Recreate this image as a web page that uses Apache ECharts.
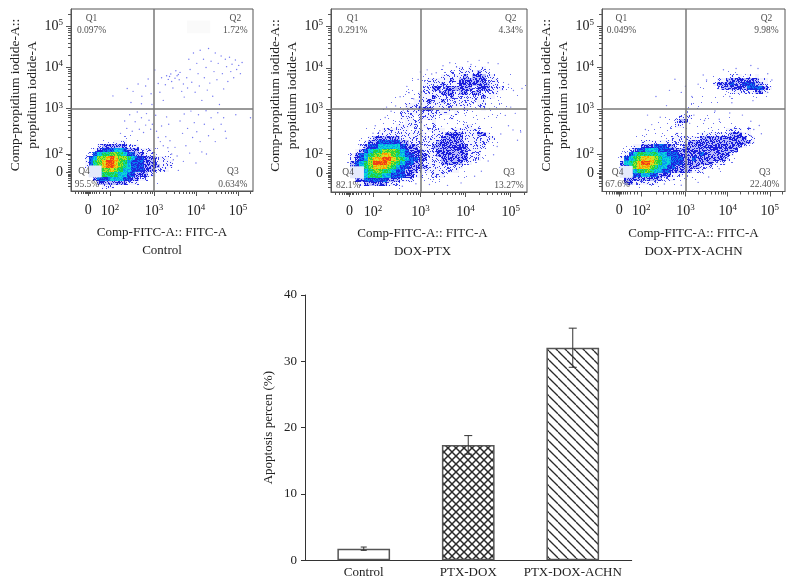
<!DOCTYPE html>
<html><head><meta charset="utf-8">
<style>html,body{margin:0;padding:0;background:#fff}#c{width:793px;height:585px}</style>
<script src="https://cdn.jsdelivr.net/npm/echarts@6/dist/echarts.min.js"></script>
</head><body><div id="c"></div>
<script>
// ---------- flow cytometry data (positions in decades on the biexponential display scale) ----------
const panelNames = ['Control', 'DOX-PTX', 'DOX-PTX-ACHN'];
const majorTicksX = [1.43, 1.95, 3, 4, 5];
const majorTicksY = [1.45, 1.9, 3, 4, 5];
const tickLabels = ['0', '10{s|2}', '10{s|3}', '10{s|4}', '10{s|5}'];
const minorTicks = [1.12,1.2,1.26,1.31,1.35,1.38,1.41,1.45,1.48,1.52,1.57,1.63,1.7,1.78,1.86,2.3,2.48,2.6,2.7,2.78,2.85,2.9,2.95,3.3,3.48,3.6,3.7,3.78,3.85,3.9,3.95,4.3,4.48,4.6,4.7,4.78,4.85,4.9,4.95,5.3];
const gateX = 3, gateY = 3;
const q1Pct = ['0.097%', '0.291%', '0.049%'];
const q2Pct = ['1.72%', '4.34%', '9.98%'];
const q3Pct = ['0.634%', '13.27%', '22.40%'];
const q4Pct = ['95.5%', '82.1%', '67.6%'];
const qLabelX = [
  [1.51, 4.94, 4.88, 1.33, 1.40],
  [1.50, 5.00, 4.96, 1.40, 1.40],
  [1.48, 4.92, 4.88, 1.39, 1.39]
];

// density rows: [y, digits], first digit at x = 1.3, one digit per 0.1 decade
const density1 = [
  [2.3,'......1.1.11.1.1'],
  [2.2,'....11112221111.1'],
  [2.1,'...1233333322211.1.1'],
  [2.0,'..1234445543332221111'],
  [1.9,'.1245667765443322211.1'],
  [1.8,'.2457789877654433322211.1'],
  [1.7,'.2467899876544433322221'],
  [1.6,'.2467899876544433332221'],
  [1.5,'.135677876554443332221'],
  [1.4,'..34566665544333221'],
  [1.3,'...344455544332211'],
  [1.2,'....3333333222111.1'],
  [1.1,'.....2221.1.1']
];
const density2 = [
  [4.1,'.........................1.1.1.1'],
  [4.0,'......................1.112121121.1'],
  [3.9,'...................1.11121222232211.1'],
  [3.8,'..................111122222323332211.1'],
  [3.7,'...............1.1122222323333332221.1'],
  [3.6,'..............1.112222322233333332211.1.1'],
  [3.5,'.............1111122332333333233322211'],
  [3.4,'............1.11122222333233233222211.1'],
  [3.3,'...........1.111122232223222222322111.1'],
  [3.2,'...........1.111222322322222222211111'],
  [3.1,'..........1.1122222222222222212211111'],
  [3.0,'.........1.11122233322222212111211111'],
  [2.9,'........1.1112222222222212111111.1.1'],
  [2.8,'........1.11122212222111211111111.1.1'],
  [2.7,'.......1.1111122221121111111111.1.1'],
  [2.6,'......1.11112222212121111112211111'],
  [2.5,'.....1111222222122122221222222211.1.1..1'],
  [2.4,'.....11122222222222122233332223321.1'],
  [2.3,'....1123333332222222223333322222221'],
  [2.2,'...11233444443322222233333322222211'],
  [2.1,'..112344555554333222333333332222.1'],
  [2.0,'..123456677765433322233333332221'],
  [1.9,'.12345677887654433322333333322211'],
  [1.8,'.1234578899876544332223333332221'],
  [1.7,'.13456799987654433222233333221'],
  [1.6,'.1345678887654433332222222211'],
  [1.5,'..23456776654433322222222211'],
  [1.4,'..33456665544433221122211111'],
  [1.3,'...3344444333222111111.1'],
  [1.2,'....23333322211.1.1.1'],
  [1.1,'.....1111.1.1']
];
const density3 = [
  [3.9,'...........................1.1.1.1.1'],
  [3.8,'......................1.1.1121212121.1'],
  [3.7,'....................1.1.12233333333221'],
  [3.6,'....................1.11233343344433211'],
  [3.5,'.....................1.1123333334444321'],
  [3.4,'....................1.1.1.112222223321'],
  [3.3,'...................1.11.1.1.1.11111111'],
  [3.2,'.................1.1.1.111.1.1.1'],
  [3.1,'................1.11111.1.1.1'],
  [3.0,'...............1.11.1.1.1'],
  [2.9,'..............1.111.1.1.1'],
  [2.8,'............1.11222.1.1..1.1'],
  [2.7,'...........1.112331.11.1.1.1.1'],
  [2.6,'.........1.1.11221.111111.1.1111'],
  [2.5,'........1.111111111.11111112222.21'],
  [2.4,'.......11.11111211111222222233322.1'],
  [2.3,'.....1.1111111222222233333333333.21'],
  [2.2,'....1112222222222233333333333333321'],
  [2.1,'...112233344433223333333333333321'],
  [2.0,'..11234455544433333333333333331'],
  [1.9,'..1245666665544433333433333321'],
  [1.8,'.12456788876554443343333333211'],
  [1.7,'.1356789987655444333333322211'],
  [1.6,'.1346788876554433333322211'],
  [1.5,'..2345667655443333322211.1'],
  [1.4,'...3344554433322211111'],
  [1.3,'...333333333222111.1'],
  [1.2,'...3322222211.1.1'],
  [1.1,'.....111.1.1']
];
// individually read events, [x, y]
const events1 = [[2.02,3.31],[2.36,3.49],[2.5,3.42],[2.62,3.6],[2.71,3.3],[2.8,3.55],[2.86,3.72],[2.93,3.36],[2.45,3.15],[2.7,3.12],[2.95,3.1],[3.02,3.94],[3.1,3.61],[3.14,3.4],[3.18,3.75],[3.22,3.2],[3.27,3.58],[3.3,3.8],[3.34,3.71],[3.37,3.78],[3.4,3.84],[3.42,3.66],[3.45,3.5],[3.5,3.74],[3.52,3.92],[3.55,3.8],[3.58,3.83],[3.6,3.7],[3.62,3.88],[3.66,3.42],[3.7,3.6],[3.72,3.28],[3.78,3.75],[3.8,3.5],[3.83,4.2],[3.86,3.95],[3.9,3.64],[3.94,4.35],[3.98,3.4],[4.02,4.1],[4.05,3.85],[4.08,3.55],[4.1,4.42],[4.14,3.2],[4.18,4.2],[4.2,3.75],[4.24,4.0],[4.27,3.45],[4.3,4.46],[4.33,3.62],[4.36,4.15],[4.4,3.3],[4.43,3.9],[4.46,4.35],[4.5,3.7],[4.53,4.1],[4.56,3.1],[4.6,4.28],[4.63,3.85],[4.66,3.48],[4.7,4.2],[4.73,4.02],[4.76,3.66],[4.8,4.25],[4.83,3.9],[4.86,4.08],[4.9,3.75],[4.94,4.18],[4.97,3.95],[5.02,4.05],[5.06,3.85],[5.1,4.12],
  [2.2,2.4],[2.3,2.7],[2.35,2.52],[2.42,2.85],[2.48,2.45],[2.55,2.68],[2.6,2.92],[2.65,2.5],[2.7,2.78],[2.75,2.42],[2.8,2.6],[2.82,2.88],[2.88,2.72],[2.92,2.5],[2.96,2.62],[3.04,2.84],[3.06,2.45],[3.1,2.3],[3.15,2.2],[3.18,2.58],[3.22,2.1],[3.28,2.32],[3.33,2.05],[3.38,2.22],[3.42,1.9],[3.46,1.76],[3.5,2.06],[3.55,1.85],[3.3,2.8],[3.35,2.62],[3.62,2.7],[3.68,2.4],[3.72,2.87],[3.76,2.1],[3.8,2.52],[3.88,2.94],[3.92,2.3],[3.96,2.66],[4.02,2.44],[4.06,2.85],[4.1,2.2],[4.14,1.95],[4.2,2.62],[4.24,2.95],[4.3,2.34],[4.36,2.78],[4.42,2.5],[4.46,2.2],[4.52,2.9],[4.6,2.62],[4.66,2.78],[4.7,2.45],[4.72,2.28],[4.95,2.85],[5.3,2.78],[3.58,1.5],[3.7,1.72],[3.85,1.92],[4.0,1.68],[4.25,1.9]];
const events2 = [[2.25,3.05],[2.55,3.3],[2.7,3.55],[2.85,3.25],[2.95,3.72],[2.75,3.4],[3.0,3.9],[3.15,3.95],[3.25,3.85],[3.65,4.12],[4.05,4.15],[4.3,4.18],[4.5,4.12],[4.72,4.1],[4.95,3.6],[5.06,3.45],[5.25,3.5],[5.0,3.05],[5.1,2.9],[4.88,2.85],[4.95,2.6],[5.05,2.5],[5.15,2.25],[5.22,2.45],[4.78,2.4],[4.7,2.1],[4.62,1.9],[4.5,1.75],[4.35,1.5],[4.2,1.38],[3.9,1.22],[3.6,1.16],[3.2,1.18],[2.9,1.2],[2.6,1.14],[2.0,2.6],[2.1,2.48],[1.95,2.42],[2.22,2.8],[2.35,2.95],[2.45,3.08],[2.62,2.98],[3.35,3.88],[3.5,4.05],[3.8,4.02],[4.12,4.08]];
const events3 = [[2.75,3.72],[2.3,3.3],[2.62,3.45],[2.9,3.4],[3.0,3.55],[3.15,3.3],[3.3,3.6],[3.5,3.7],[3.42,3.82],[3.9,3.95],[4.2,3.98],[4.55,4.05],[4.72,3.98],[4.95,3.85],[5.05,3.7],[4.95,3.4],[4.6,3.2],[4.1,3.15],[3.7,2.95],[3.8,2.75],[4.05,2.9],[4.35,2.85],[4.55,2.7],[4.75,2.6],[4.5,2.55],[4.62,2.5],[4.8,2.4],[4.55,2.35],[4.4,2.15],[4.2,1.95],[4.0,1.8],[3.8,1.55],[3.55,1.35],[3.3,1.22],[2.9,1.15],[2.5,1.18],[2.2,2.62],[2.05,2.5],[2.4,2.8],[2.1,2.85],[2.55,3.08],[3.2,2.85],[3.45,2.72],[3.1,2.65],[4.05,3.3]];
// ---------- bar chart data ----------
const barCategories = ['Control', 'PTX-DOX', 'PTX-DOX-ACHN'];
const barValues = [1.75, 17.4, 32.05];
const barLow = [1.5, 16.0, 29.1];
const barHigh = [2.0, 18.8, 35.0];
const barTicks = [0, 10, 20, 30, 40];

// ---------- styles ----------
const serif = '"Liberation Serif", serif';
const ink = '#333';
const frame = '#555';
// speckle texture for each density level: background, dot colour, share of dotted pixels
const levelTextures = [null,
  [null,'#6a70ee',.04],['#f4f4fe','#3a40e8',.2],['#b8bcf8','#1a1edc',.55],
  ['#1c28e0','#0a78f0',.4],['#0a98f0','#08d8d8',.5],['#0cd8b0','#20d040',.55],
  ['#30d438','#b0e020',.5],['#d8e020','#ff9a00',.45],['#f04018','#ff8800',.3]];
const panels = [
  {left:71,top:9,width:182,height:182},
  {left:331,top:9,width:196,height:183},
  {left:602,top:9,width:183,height:182.5}
];
const xRange = [1.02, 5.36], yRange = [1, 5.42];
const q4Box = [[1.44,1.62],[1.75,1.33]];
const faintBox = [[3.79,5.14],[4.34,4.83]];
const nameShift = [0, 13, 0];

// fixed pixel texture (a style, not data): each pixel is dotted according to a hash of its position
function speckle(spec){
  const size=64, c=document.createElement('canvas'); c.width=c.height=size;
  const g=c.getContext('2d');
  if(spec[0]){ g.fillStyle=spec[0]; g.fillRect(0,0,size,size); }
  g.fillStyle=spec[1];
  for(let y=0;y<size;y++) for(let x=0;x<size;x++){
    let h=Math.imul(x+1,374761393)+Math.imul(y+1,668265263);
    h=Math.imul(h^(h>>>13),1274126177); h=(h^(h>>>16))>>>0;
    if(h%1000<spec[2]*1000) g.fillRect(x,y,1,1);
  }
  return {image:c,repeat:'repeat'};
}
const levelFill=levelTextures.map(s=>s?speckle(s):null);
function expand(rows){
  const out=[];
  rows.forEach(([y,s])=>{ for(let i=0;i<s.length;i++){ const l=+s[i]; if(l>0) out.push([+(1.3+i*0.1).toFixed(1),y,l]); } });
  return out;
}
function hatch(size, both){
  const c=document.createElement('canvas'); c.width=c.height=size;
  const g=c.getContext('2d'); g.fillStyle='#fff'; g.fillRect(0,0,size,size);
  g.strokeStyle='#2a2a2a'; g.lineWidth=both?1.5:1.3;
  [-size,0,size].forEach(o=>{ g.beginPath(); g.moveTo(o,0); g.lineTo(o+size,size); g.stroke();
    if(both){ g.beginPath(); g.moveTo(o+size,0); g.lineTo(o,size); g.stroke(); } });
  return c;
}

const grid=[], xAxis=[], yAxis=[], series=[];
const densities=[density1,density2,density3], eventsAll=[events1,events2,events3];
const baseLabel={fontFamily:serif,fontSize:14,color:'#222',
  rich:{s:{fontFamily:serif,fontSize:9,color:'#222',padding:[0,0,7,0]}}};
panels.forEach((p,k)=>{
  grid.push({left:p.left,top:p.top,width:p.width,height:p.height,show:true,borderColor:frame,borderWidth:1,backgroundColor:'#fff',containLabel:false});
  const line={show:true,onZero:false,lineStyle:{color:frame,width:1}};
  xAxis.push({gridIndex:k,type:'value',min:xRange[0],max:xRange[1],position:'bottom',splitLine:{show:false},axisLine:line,
    axisTick:{show:true,customValues:majorTicksX,length:5,inside:false,lineStyle:{color:frame}},
    axisLabel:{customValues:majorTicksX,margin:12,showMinLabel:true,showMaxLabel:true,hideOverlap:false,
      formatter:v=>tickLabels[majorTicksX.indexOf(v)]||'',...baseLabel},
    name:'Comp-FITC-A:: FITC-A\n'+panelNames[k],nameLocation:'middle',nameGap:33,
    nameTextStyle:{fontFamily:serif,fontSize:13,color:'#222',lineHeight:18,padding:[0,nameShift[k],0,0]}});
  xAxis.push({gridIndex:k,type:'value',min:xRange[0],max:xRange[1],position:'bottom',splitLine:{show:false},axisLine:{show:false,onZero:false},
    axisTick:{show:true,customValues:minorTicks,length:3,lineStyle:{color:frame,width:1}},axisLabel:{show:false}});
  yAxis.push({gridIndex:k,type:'value',min:yRange[0],max:yRange[1],position:'left',splitLine:{show:false},axisLine:line,
    axisTick:{show:true,customValues:majorTicksY,length:5,lineStyle:{color:frame}},
    axisLabel:{customValues:majorTicksY,margin:8,hideOverlap:false,formatter:v=>tickLabels[majorTicksY.indexOf(v)]||'',...baseLabel},
    name:'Comp-propidium iodide-A::\npropidium iodide-A',nameLocation:'middle',nameGap:27,nameRotate:90,
    nameTextStyle:{fontFamily:serif,fontSize:13.5,color:'#222',lineHeight:17,padding:[0,0,0,10]}});
  yAxis.push({gridIndex:k,type:'value',min:yRange[0],max:yRange[1],position:'left',splitLine:{show:false},axisLine:{show:false,onZero:false},
    axisTick:{show:true,customValues:minorTicks,length:3,lineStyle:{color:frame,width:1}},axisLabel:{show:false}});
  const xi=k*2, yi=k*2;
  series.push({type:'custom',xAxisIndex:xi,yAxisIndex:yi,z:2,silent:true,animation:false,
    data:expand(densities[k]),encode:{x:0,y:1},
    renderItem:(params,api)=>{
      const x=api.value(0), y=api.value(1), half=0.05;
      const a=api.coord([x-half,y+half]), b=api.coord([x+half,y-half]);
      const x0=Math.round(a[0]), y0=Math.round(a[1]);
      return {type:'rect',shape:{x:x0,y:y0,width:Math.round(b[0])-x0,height:Math.round(b[1])-y0},
        style:{fill:levelFill[api.value(2)]}};
    }});
  series.push({type:'scatter',xAxisIndex:xi,yAxisIndex:yi,z:3,silent:true,animation:false,
    data:eventsAll[k],symbolSize:1.4,itemStyle:{color:'#5a60ee',opacity:.85}});
  const lx=qLabelX[k];
  const labels=[[lx[0],5.19,'Q1'],[lx[0],4.9,q1Pct[k]],[lx[1],5.19,'Q2'],[lx[1],4.9,q2Pct[k]],
                [lx[2],1.47,'Q3'],[lx[2],1.16,q3Pct[k]],[lx[3],1.47,'Q4'],[lx[4],1.16,q4Pct[k]]];
  const areas=[[{coord:q4Box[0],itemStyle:{color:'#e4e9fb',opacity:1}},{coord:q4Box[1]}]];
  if(k===0) areas.push([{coord:faintBox[0],itemStyle:{color:'#fafafa',opacity:1}},{coord:faintBox[1]}]);
  series.push({type:'scatter',xAxisIndex:xi,yAxisIndex:yi,z:5,silent:true,animation:false,
    data:labels,symbolSize:1,itemStyle:{color:'rgba(0,0,0,0)'},
    label:{show:true,position:'inside',formatter:q=>q.data[2],fontFamily:serif,fontSize:9.5,color:'#222'},
    markArea:{silent:true,z:4,data:areas},
    markLine:{silent:true,symbol:'none',animation:false,label:{show:false},
      lineStyle:{color:'#777',width:1.5,type:'solid'},data:[{xAxis:gateX},{yAxis:gateY}]}});
});

// bar chart
grid.push({left:305,top:295,width:326.7,height:265.3,show:false});
const bx=xAxis.length, by=yAxis.length;
xAxis.push({gridIndex:3,type:'value',min:-0.562,max:2.564,splitLine:{show:false},
  axisLine:{show:true,onZero:false,lineStyle:{color:ink,width:1}},axisTick:{show:false},
  axisLabel:{customValues:[0,1,2],formatter:v=>barCategories[v]||'',fontFamily:serif,fontSize:13,color:'#222',margin:6,hideOverlap:false}});
yAxis.push({gridIndex:3,type:'value',min:0,max:40,interval:10,splitLine:{show:false},
  axisLine:{show:true,onZero:false,lineStyle:{color:ink,width:1}},axisTick:{show:true,length:4,lineStyle:{color:ink}},
  axisLabel:{fontFamily:serif,fontSize:13,color:'#222',margin:8,customValues:barTicks},
  name:'Apoptosis percen (%)',nameLocation:'middle',nameGap:30,
  nameTextStyle:{fontFamily:serif,fontSize:13,color:'#222'}});
const fills=['#fff',{image:hatch(8,true),repeat:'repeat'},{image:hatch(9,false),repeat:'repeat'}];
series.push({type:'bar',xAxisIndex:bx,yAxisIndex:by,barWidth:52.7,silent:true,animation:false,z:2,
  data:barValues.map((v,i)=>({value:[i,v],itemStyle:{color:fills[i],borderColor:'#555',borderWidth:1.5}}))});
series.push({type:'custom',xAxisIndex:bx,yAxisIndex:by,silent:true,animation:false,z:4,
  data:barValues.map((v,i)=>[i,barLow[i],barHigh[i]]),encode:{x:0,y:[1,2]},
  renderItem:(params,api)=>{
    const lo=api.coord([api.value(0),api.value(1)]), hi=api.coord([api.value(0),api.value(2)]);
    const cap=params.dataIndex===0?3:4;
    const st={stroke:'#333',lineWidth:1,fill:null};
    const seg=(a,b,c,d)=>({type:'line',shape:{x1:a,y1:b,x2:c,y2:d},style:st});
    return {type:'group',children:[seg(lo[0],lo[1],hi[0],hi[1]),seg(hi[0]-cap,hi[1],hi[0]+cap,hi[1]),seg(lo[0]-cap,lo[1],lo[0]+cap,lo[1])]};
  }});

const chart=echarts.init(document.getElementById('c'),null,{renderer:'canvas'});
chart.setOption({animation:false,backgroundColor:'#fff',grid,xAxis,yAxis,series});
</script></body></html>
